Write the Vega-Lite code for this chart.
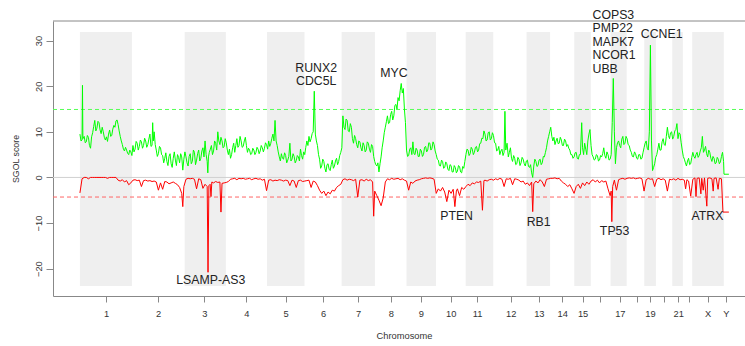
{
"$schema":"https://vega.github.io/schema/vega-lite/v6.json",
"width":692,"height":275,
"autosize":{"type":"none"},
"padding":{"left":53,"top":21,"right":0,"bottom":50},
"background":"white",
"config":{"font":"Liberation Sans","view":{"stroke":null},"axis":{"grid":false}},
"datasets":{
"bands":[{"chr":"1","p":0,"p2":245,"v":-23.8,"v2":31.9},{"chr":"3","p":494,"p2":688,"v":-23.8,"v2":31.9},{"chr":"5","p":882,"p2":1059,"v":-23.8,"v2":31.9},{"chr":"7","p":1234,"p2":1391,"v":-23.8,"v2":31.9},{"chr":"9","p":1540,"p2":1679,"v":-23.8,"v2":31.9},{"chr":"11","p":1819,"p2":1949,"v":-23.8,"v2":31.9},{"chr":"13","p":2106,"p2":2217,"v":-23.8,"v2":31.9},{"chr":"15","p":2331,"p2":2409,"v":-23.8,"v2":31.9},{"chr":"17","p":2502,"p2":2578,"v":-23.8,"v2":31.9},{"chr":"19","p":2661,"p2":2716,"v":-23.8,"v2":31.9},{"chr":"21","p":2793,"p2":2843,"v":-23.8,"v2":31.9},{"chr":"X","p":2887,"p2":3036,"v":-23.8,"v2":31.9}],
"hlines":[{"k":"frame","p":-127,"p2":3136,"v":34.3},{"k":"zero","p":-127,"p2":3136,"v":0},{"k":"gain","p":-127,"p2":3136,"v":14.9},{"k":"loss","p":-127,"p2":3136,"v":-4.3}],
"gain":[{"p":0,"v":9.5},{"p":5,"v":8.0},{"p":10,"v":8.2},{"p":12,"v":20.2},{"p":14,"v":8.5},{"p":20,"v":9.0},{"p":25,"v":7.6},{"p":30,"v":7.8},{"p":35,"v":9.2},{"p":40,"v":8.8},{"p":45,"v":7.0},{"p":50,"v":6.4},{"p":55,"v":8.9},{"p":60,"v":9.8},{"p":65,"v":11.2},{"p":70,"v":12.5},{"p":75,"v":10.2},{"p":80,"v":10.8},{"p":85,"v":12.3},{"p":90,"v":12.0},{"p":95,"v":10.4},{"p":100,"v":9.6},{"p":105,"v":11.0},{"p":110,"v":10.0},{"p":115,"v":8.8},{"p":120,"v":8.2},{"p":125,"v":8.9},{"p":130,"v":7.9},{"p":135,"v":9.5},{"p":140,"v":10.4},{"p":145,"v":9.0},{"p":150,"v":9.2},{"p":155,"v":10.6},{"p":160,"v":11.4},{"p":165,"v":11.0},{"p":170,"v":12.4},{"p":175,"v":12.6},{"p":180,"v":11.6},{"p":185,"v":10.2},{"p":190,"v":9.0},{"p":195,"v":8.0},{"p":200,"v":7.2},{"p":205,"v":6.2},{"p":210,"v":5.8},{"p":215,"v":6.6},{"p":220,"v":6.0},{"p":225,"v":5.3},{"p":230,"v":5.0},{"p":235,"v":6.0},{"p":240,"v":5.6},{"p":245,"v":4.8},
{"p":250,"v":7.0},{"p":255,"v":5.6},{"p":260,"v":6.2},{"p":265,"v":7.9},{"p":270,"v":7.5},{"p":275,"v":6.0},{"p":280,"v":6.8},{"p":285,"v":8.2},{"p":290,"v":7.8},{"p":295,"v":6.4},{"p":300,"v":7.0},{"p":305,"v":8.6},{"p":310,"v":8.0},{"p":315,"v":6.6},{"p":320,"v":7.2},{"p":325,"v":8.4},{"p":330,"v":9.5},{"p":335,"v":6.8},{"p":340,"v":7.0},{"p":343,"v":12.0},{"p":346,"v":8.0},{"p":350,"v":10.0},{"p":355,"v":7.2},{"p":360,"v":6.0},{"p":365,"v":4.6},{"p":370,"v":5.2},{"p":375,"v":6.8},{"p":380,"v":6.5},{"p":385,"v":5.0},{"p":390,"v":4.8},{"p":395,"v":3.2},{"p":400,"v":4.2},{"p":405,"v":5.4},{"p":410,"v":3.5},{"p":415,"v":2.6},{"p":420,"v":4.6},{"p":425,"v":5.2},{"p":430,"v":3.0},{"p":435,"v":2.2},{"p":440,"v":4.2},{"p":445,"v":5.6},{"p":450,"v":3.8},{"p":455,"v":2.6},{"p":460,"v":5.0},{"p":465,"v":4.4},{"p":470,"v":3.2},{"p":475,"v":5.2},{"p":480,"v":4.5},{"p":485,"v":1.6},{"p":490,"v":4.0},{"p":495,"v":5.6},
{"p":500,"v":4.5},{"p":505,"v":3.2},{"p":510,"v":2.5},{"p":515,"v":4.6},{"p":520,"v":5.2},{"p":525,"v":3.0},{"p":530,"v":3.5},{"p":535,"v":6.0},{"p":540,"v":5.5},{"p":545,"v":2.8},{"p":550,"v":3.8},{"p":555,"v":5.2},{"p":560,"v":6.0},{"p":565,"v":3.6},{"p":570,"v":4.2},{"p":575,"v":5.8},{"p":580,"v":6.5},{"p":585,"v":4.5},{"p":590,"v":8.0},{"p":595,"v":5.0},{"p":600,"v":3.5},{"p":603,"v":1.0},{"p":606,"v":4.5},{"p":610,"v":5.5},{"p":615,"v":6.2},{"p":620,"v":7.0},{"p":625,"v":5.0},{"p":630,"v":5.8},{"p":635,"v":8.0},{"p":640,"v":7.5},{"p":645,"v":6.0},{"p":650,"v":10.0},{"p":655,"v":8.0},{"p":660,"v":7.2},{"p":665,"v":8.8},{"p":670,"v":8.0},{"p":675,"v":6.5},{"p":680,"v":6.8},{"p":685,"v":8.5},{"p":690,"v":7.6},{"p":695,"v":6.0},
{"p":700,"v":5.0},{"p":705,"v":6.2},{"p":710,"v":4.2},{"p":715,"v":5.0},{"p":720,"v":6.5},{"p":725,"v":7.5},{"p":730,"v":5.5},{"p":735,"v":7.0},{"p":740,"v":8.5},{"p":745,"v":6.6},{"p":750,"v":7.0},{"p":755,"v":9.0},{"p":760,"v":8.0},{"p":765,"v":6.6},{"p":770,"v":6.8},{"p":775,"v":8.0},{"p":780,"v":8.8},{"p":785,"v":7.0},{"p":790,"v":5.5},{"p":795,"v":6.4},{"p":800,"v":6.0},{"p":805,"v":5.0},{"p":810,"v":5.2},{"p":815,"v":6.4},{"p":820,"v":6.0},{"p":825,"v":5.0},{"p":830,"v":5.5},{"p":835,"v":6.6},{"p":840,"v":6.2},{"p":845,"v":5.2},{"p":850,"v":5.8},{"p":855,"v":7.0},{"p":860,"v":6.5},{"p":865,"v":5.6},{"p":870,"v":6.4},{"p":875,"v":7.6},{"p":880,"v":7.2},{"p":885,"v":6.2},
{"p":890,"v":8.0},{"p":895,"v":6.8},{"p":900,"v":7.5},{"p":905,"v":8.6},{"p":910,"v":9.5},{"p":915,"v":8.0},{"p":920,"v":12.5},{"p":925,"v":8.0},{"p":930,"v":7.0},{"p":935,"v":5.6},{"p":940,"v":4.5},{"p":945,"v":3.6},{"p":950,"v":5.2},{"p":955,"v":4.2},{"p":960,"v":4.0},{"p":965,"v":5.4},{"p":970,"v":4.8},{"p":975,"v":3.2},{"p":980,"v":3.8},{"p":985,"v":4.6},{"p":990,"v":7.5},{"p":995,"v":3.6},{"p":1000,"v":4.0},{"p":1005,"v":5.2},{"p":1010,"v":4.6},{"p":1015,"v":3.2},{"p":1020,"v":3.7},{"p":1025,"v":4.8},{"p":1030,"v":4.5},{"p":1035,"v":3.6},{"p":1040,"v":6.2},{"p":1045,"v":4.8},{"p":1050,"v":4.0},{"p":1055,"v":5.6},{"p":1060,"v":5.0},{"p":1065,"v":6.6},
{"p":1070,"v":8.0},{"p":1075,"v":7.0},{"p":1080,"v":9.0},{"p":1085,"v":7.8},{"p":1090,"v":8.5},{"p":1095,"v":9.6},{"p":1100,"v":10.0},{"p":1105,"v":18.9},{"p":1110,"v":9.5},{"p":1115,"v":8.0},{"p":1120,"v":7.0},{"p":1125,"v":5.0},{"p":1130,"v":4.0},{"p":1135,"v":2.0},{"p":1140,"v":2.5},{"p":1145,"v":4.0},{"p":1150,"v":3.5},{"p":1155,"v":2.0},{"p":1160,"v":1.2},{"p":1165,"v":2.8},{"p":1170,"v":3.0},{"p":1175,"v":1.8},{"p":1180,"v":1.5},{"p":1185,"v":2.8},{"p":1190,"v":3.8},{"p":1195,"v":2.0},{"p":1200,"v":2.5},{"p":1205,"v":3.6},{"p":1210,"v":4.2},{"p":1215,"v":2.8},{"p":1220,"v":3.5},{"p":1225,"v":4.8},{"p":1230,"v":5.5},{"p":1235,"v":6.5},
{"p":1240,"v":13.5},{"p":1245,"v":11.0},{"p":1250,"v":10.5},{"p":1255,"v":12.8},{"p":1260,"v":12.5},{"p":1265,"v":10.2},{"p":1270,"v":10.0},{"p":1275,"v":11.8},{"p":1280,"v":11.0},{"p":1285,"v":8.5},{"p":1290,"v":7.5},{"p":1295,"v":9.2},{"p":1300,"v":8.5},{"p":1305,"v":7.2},{"p":1310,"v":6.5},{"p":1315,"v":8.0},{"p":1320,"v":7.8},{"p":1325,"v":6.5},{"p":1330,"v":5.8},{"p":1335,"v":7.6},{"p":1340,"v":7.0},{"p":1345,"v":5.6},{"p":1350,"v":6.0},{"p":1355,"v":7.8},{"p":1360,"v":7.5},{"p":1365,"v":6.2},{"p":1370,"v":5.5},{"p":1375,"v":7.2},{"p":1380,"v":6.8},{"p":1385,"v":4.6},{"p":1390,"v":3.5},{"p":1395,"v":2.8},
{"p":1400,"v":2.5},{"p":1405,"v":3.2},{"p":1410,"v":1.2},{"p":1415,"v":3.0},{"p":1420,"v":4.5},{"p":1425,"v":6.5},{"p":1430,"v":8.0},{"p":1435,"v":9.8},{"p":1440,"v":11.0},{"p":1445,"v":12.2},{"p":1450,"v":13.5},{"p":1455,"v":11.8},{"p":1460,"v":12.0},{"p":1465,"v":13.8},{"p":1470,"v":14.5},{"p":1475,"v":12.6},{"p":1480,"v":13.5},{"p":1485,"v":15.8},{"p":1490,"v":16.0},{"p":1495,"v":15.0},{"p":1500,"v":17.5},{"p":1505,"v":16.8},{"p":1510,"v":19.0},{"p":1515,"v":20.6},{"p":1520,"v":18.5},{"p":1525,"v":19.5},{"p":1530,"v":15.0},{"p":1535,"v":12.0},
{"p":1540,"v":6.0},{"p":1545,"v":4.6},{"p":1550,"v":4.8},{"p":1555,"v":6.2},{"p":1560,"v":6.5},{"p":1565,"v":5.0},{"p":1570,"v":7.8},{"p":1575,"v":5.2},{"p":1580,"v":5.0},{"p":1585,"v":6.4},{"p":1590,"v":6.0},{"p":1595,"v":4.6},{"p":1600,"v":4.6},{"p":1605,"v":6.2},{"p":1610,"v":5.8},{"p":1615,"v":4.6},{"p":1620,"v":5.0},{"p":1625,"v":6.6},{"p":1630,"v":6.8},{"p":1635,"v":5.6},{"p":1640,"v":6.0},{"p":1645,"v":7.6},{"p":1650,"v":7.5},{"p":1655,"v":6.0},{"p":1660,"v":6.4},{"p":1665,"v":7.8},{"p":1670,"v":7.2},{"p":1675,"v":5.8},{"p":1680,"v":5.0},{"p":1685,"v":4.0},
{"p":1690,"v":3.8},{"p":1695,"v":2.6},{"p":1700,"v":2.5},{"p":1705,"v":3.8},{"p":1710,"v":3.5},{"p":1715,"v":2.0},{"p":1720,"v":2.2},{"p":1725,"v":3.4},{"p":1730,"v":3.0},{"p":1735,"v":1.8},{"p":1740,"v":1.5},{"p":1745,"v":2.8},{"p":1750,"v":2.6},{"p":1755,"v":1.2},{"p":1760,"v":1.2},{"p":1765,"v":2.6},{"p":1770,"v":2.2},{"p":1775,"v":1.0},{"p":1780,"v":1.4},{"p":1785,"v":2.6},{"p":1790,"v":2.4},{"p":1795,"v":1.2},{"p":1800,"v":1.0},{"p":1805,"v":2.4},{"p":1810,"v":2.0},{"p":1815,"v":3.5},
{"p":1820,"v":5.0},{"p":1825,"v":6.2},{"p":1830,"v":6.0},{"p":1835,"v":4.8},{"p":1840,"v":5.2},{"p":1845,"v":6.6},{"p":1850,"v":6.2},{"p":1855,"v":5.0},{"p":1860,"v":5.5},{"p":1865,"v":6.6},{"p":1870,"v":6.8},{"p":1875,"v":5.6},{"p":1880,"v":6.0},{"p":1885,"v":7.4},{"p":1890,"v":7.5},{"p":1895,"v":8.6},{"p":1900,"v":8.5},{"p":1905,"v":10.2},{"p":1910,"v":9.5},{"p":1915,"v":8.0},{"p":1920,"v":8.2},{"p":1925,"v":9.8},{"p":1930,"v":10.0},{"p":1935,"v":8.2},{"p":1940,"v":8.5},{"p":1945,"v":9.8},{"p":1950,"v":9.2},{"p":1955,"v":7.6},
{"p":1960,"v":7.5},{"p":1965,"v":5.8},{"p":1970,"v":6.0},{"p":1975,"v":6.8},{"p":1980,"v":5.0},{"p":1985,"v":5.8},{"p":1990,"v":6.2},{"p":1995,"v":4.8},{"p":2000,"v":5.5},{"p":2004,"v":14.5},{"p":2008,"v":6.0},{"p":2014,"v":7.5},{"p":2020,"v":4.5},{"p":2025,"v":5.5},{"p":2030,"v":6.5},{"p":2035,"v":4.2},{"p":2040,"v":3.5},{"p":2045,"v":4.8},{"p":2050,"v":4.2},{"p":2055,"v":2.8},{"p":2060,"v":3.0},{"p":2065,"v":4.4},{"p":2070,"v":4.0},{"p":2075,"v":2.6},{"p":2080,"v":3.2},{"p":2085,"v":4.4},
{"p":2090,"v":4.0},{"p":2095,"v":3.0},{"p":2100,"v":2.5},{"p":2105,"v":3.6},{"p":2110,"v":3.8},{"p":2115,"v":2.4},{"p":2120,"v":2.2},{"p":2125,"v":2.8},{"p":2130,"v":1.0},{"p":2135,"v":0.0},{"p":2140,"v":2.5},{"p":2145,"v":4.0},{"p":2150,"v":3.5},{"p":2155,"v":2.4},{"p":2160,"v":2.6},{"p":2165,"v":3.8},{"p":2170,"v":4.0},{"p":2175,"v":2.8},{"p":2180,"v":3.2},{"p":2185,"v":4.6},{"p":2190,"v":4.5},{"p":2195,"v":5.5},{"p":2200,"v":6.5},{"p":2205,"v":8.0},{"p":2210,"v":9.0},{"p":2215,"v":10.0},{"p":2220,"v":11.0},{"p":2225,"v":9.0},
{"p":2230,"v":8.0},{"p":2235,"v":8.8},{"p":2240,"v":7.2},{"p":2245,"v":8.0},{"p":2250,"v":8.6},{"p":2255,"v":7.4},{"p":2260,"v":7.5},{"p":2265,"v":8.8},{"p":2270,"v":8.2},{"p":2275,"v":7.0},{"p":2280,"v":7.0},{"p":2285,"v":8.4},{"p":2290,"v":8.0},{"p":2295,"v":6.8},{"p":2300,"v":7.2},{"p":2305,"v":6.4},{"p":2310,"v":6.0},{"p":2315,"v":5.0},{"p":2320,"v":5.0},{"p":2325,"v":4.2},
{"p":2330,"v":4.5},{"p":2335,"v":5.4},{"p":2340,"v":5.5},{"p":2345,"v":4.2},{"p":2350,"v":4.0},{"p":2355,"v":5.0},{"p":2360,"v":5.0},{"p":2366,"v":12.0},{"p":2370,"v":6.5},{"p":2375,"v":5.0},{"p":2380,"v":7.5},{"p":2385,"v":6.2},{"p":2390,"v":5.0},{"p":2395,"v":8.0},{"p":2400,"v":9.5},{"p":2405,"v":10.5},
{"p":2410,"v":7.0},{"p":2415,"v":5.0},{"p":2420,"v":4.5},{"p":2425,"v":3.8},{"p":2430,"v":4.0},{"p":2435,"v":5.0},{"p":2440,"v":4.8},{"p":2445,"v":3.6},{"p":2450,"v":3.8},{"p":2455,"v":4.8},{"p":2460,"v":4.5},{"p":2465,"v":5.2},{"p":2470,"v":6.5},{"p":2475,"v":4.8},{"p":2480,"v":4.2},{"p":2485,"v":5.6},{"p":2490,"v":5.0},{"p":2495,"v":3.8},{"p":2500,"v":4.0},
{"p":2505,"v":5.0},{"p":2510,"v":12.0},{"p":2515,"v":21.7},{"p":2520,"v":10.0},{"p":2525,"v":3.0},{"p":2530,"v":6.5},{"p":2535,"v":7.6},{"p":2540,"v":8.0},{"p":2545,"v":7.0},{"p":2550,"v":6.5},{"p":2555,"v":8.4},{"p":2560,"v":9.0},{"p":2565,"v":7.2},{"p":2570,"v":7.5},{"p":2575,"v":9.0},{"p":2580,"v":8.5},{"p":2585,"v":7.2},
{"p":2590,"v":7.0},{"p":2595,"v":6.0},{"p":2600,"v":5.5},{"p":2605,"v":4.6},{"p":2610,"v":4.5},{"p":2615,"v":5.6},{"p":2620,"v":5.2},{"p":2625,"v":4.2},{"p":2630,"v":4.0},{"p":2635,"v":5.0},{"p":2640,"v":5.0},{"p":2645,"v":4.0},{"p":2650,"v":4.2},{"p":2655,"v":5.4},{"p":2660,"v":6.5},{"p":2665,"v":7.5},
{"p":2670,"v":8.0},{"p":2675,"v":6.4},{"p":2680,"v":6.0},{"p":2685,"v":10.0},{"p":2690,"v":29.0},{"p":2695,"v":8.0},{"p":2700,"v":1.5},{"p":2705,"v":2.2},{"p":2710,"v":3.0},{"p":2715,"v":4.4},
{"p":2720,"v":5.0},{"p":2725,"v":6.2},{"p":2730,"v":7.5},{"p":2735,"v":6.0},{"p":2740,"v":6.0},{"p":2745,"v":7.8},{"p":2750,"v":8.5},{"p":2755,"v":7.2},{"p":2760,"v":7.0},{"p":2765,"v":9.0},{"p":2770,"v":11.0},{"p":2775,"v":9.2},{"p":2780,"v":8.5},{"p":2785,"v":9.8},{"p":2790,"v":10.0},{"p":2795,"v":8.4},
{"p":2800,"v":9.0},{"p":2805,"v":10.2},{"p":2810,"v":10.5},{"p":2815,"v":11.8},{"p":2820,"v":8.5},{"p":2825,"v":9.8},{"p":2830,"v":9.5},{"p":2835,"v":7.6},{"p":2840,"v":6.0},{"p":2845,"v":4.6},
{"p":2850,"v":4.0},{"p":2855,"v":3.2},{"p":2860,"v":2.5},{"p":2865,"v":3.6},{"p":2870,"v":4.2},{"p":2875,"v":2.8},{"p":2880,"v":3.0},{"p":2885,"v":4.4},
{"p":2890,"v":5.5},{"p":2895,"v":4.6},{"p":2900,"v":4.2},{"p":2905,"v":5.0},{"p":2910,"v":5.5},{"p":2915,"v":4.4},{"p":2920,"v":4.8},{"p":2925,"v":5.8},{"p":2930,"v":6.5},{"p":2935,"v":9.0},{"p":2940,"v":5.5},{"p":2945,"v":6.0},{"p":2950,"v":6.8},{"p":2955,"v":5.2},{"p":2960,"v":4.5},{"p":2965,"v":6.0},{"p":2970,"v":5.5},{"p":2975,"v":4.2},{"p":2980,"v":3.5},{"p":2985,"v":4.6},{"p":2990,"v":4.2},{"p":2995,"v":3.0},{"p":3000,"v":3.2},{"p":3005,"v":4.4},{"p":3010,"v":4.0},{"p":3015,"v":3.0},{"p":3020,"v":3.4},{"p":3025,"v":4.6},{"p":3030,"v":5.5},{"p":3035,"v":3.5},{"p":3037,"v":0.7},{"p":3060,"v":0.7}],
"loss":[{"p":0,"v":-3.4},{"p":10,"v":-0.3},{"p":20,"v":0},{"p":30,"v":0},{"p":40,"v":-0.3},{"p":50,"v":0},{"p":60,"v":0},{"p":70,"v":0},{"p":80,"v":0},{"p":90,"v":0},{"p":100,"v":0},{"p":110,"v":0},{"p":120,"v":0},{"p":130,"v":-0.2},{"p":140,"v":0},{"p":150,"v":0},{"p":160,"v":0},{"p":170,"v":0},{"p":180,"v":-0.6},{"p":190,"v":-0.8},{"p":200,"v":-0.5},{"p":210,"v":-1.0},{"p":220,"v":-0.7},{"p":230,"v":-1.6},{"p":240,"v":-1.2},
{"p":250,"v":-0.6},{"p":260,"v":-0.5},{"p":270,"v":-0.7},{"p":280,"v":-0.6},{"p":290,"v":-2.0},{"p":300,"v":-0.7},{"p":310,"v":-0.6},{"p":320,"v":-0.8},{"p":330,"v":-0.7},{"p":340,"v":-0.9},{"p":350,"v":-0.8},{"p":360,"v":-1.0},{"p":370,"v":-2.8},{"p":380,"v":-1.2},{"p":390,"v":-2.6},{"p":400,"v":-0.9},{"p":410,"v":-1.0},{"p":420,"v":-1.4},{"p":430,"v":-1.2},{"p":440,"v":-1.0},{"p":450,"v":-1.3},{"p":460,"v":-1.6},{"p":470,"v":-2.2},{"p":480,"v":-3.5},{"p":485,"v":-6.4},{"p":490,"v":-2.0},
{"p":500,"v":-0.4},{"p":510,"v":-0.2},{"p":520,"v":-0.3},{"p":530,"v":-0.2},{"p":540,"v":-0.4},{"p":550,"v":-2.5},{"p":560,"v":-0.3},{"p":570,"v":-0.5},{"p":580,"v":-2.4},{"p":590,"v":-1.5},{"p":600,"v":-2.0},{"p":604,"v":-20.8},{"p":608,"v":-1.8},{"p":614,"v":-1.5},{"p":618,"v":-4.2},{"p":622,"v":-1.0},{"p":630,"v":-1.2},{"p":640,"v":-0.9},{"p":650,"v":-1.1},{"p":660,"v":-1.0},{"p":665,"v":-7.6},{"p":670,"v":-1.3},{"p":680,"v":-1.2},{"p":690,"v":-1.1},
{"p":700,"v":-0.9},{"p":710,"v":-0.4},{"p":720,"v":-0.3},{"p":730,"v":-0.2},{"p":740,"v":-0.5},{"p":750,"v":-0.2},{"p":760,"v":-0.3},{"p":770,"v":-0.2},{"p":780,"v":-0.4},{"p":790,"v":-0.3},{"p":800,"v":-0.2},{"p":810,"v":-0.5},{"p":820,"v":-0.3},{"p":830,"v":-0.2},{"p":840,"v":-0.4},{"p":850,"v":-0.3},{"p":860,"v":-0.6},{"p":870,"v":-0.4},{"p":880,"v":-2.9},
{"p":890,"v":-0.6},{"p":900,"v":-0.5},{"p":910,"v":-0.8},{"p":920,"v":-0.6},{"p":930,"v":-0.7},{"p":940,"v":-0.5},{"p":950,"v":-0.6},{"p":960,"v":-0.8},{"p":970,"v":-0.6},{"p":980,"v":-0.7},{"p":990,"v":-1.8},{"p":1000,"v":-0.6},{"p":1010,"v":-0.8},{"p":1020,"v":-2.2},{"p":1030,"v":-0.7},{"p":1040,"v":-0.6},{"p":1050,"v":-0.9},{"p":1060,"v":-0.8},
{"p":1070,"v":-0.7},{"p":1080,"v":-0.6},{"p":1090,"v":-2.2},{"p":1100,"v":-0.8},{"p":1110,"v":-1.0},{"p":1120,"v":-1.8},{"p":1130,"v":-2.8},{"p":1140,"v":-3.5},{"p":1150,"v":-3.0},{"p":1160,"v":-4.0},{"p":1170,"v":-3.2},{"p":1180,"v":-3.6},{"p":1190,"v":-2.8},{"p":1200,"v":-3.0},{"p":1210,"v":-2.2},{"p":1220,"v":-1.8},{"p":1230,"v":-1.5},
{"p":1240,"v":-0.5},{"p":1250,"v":-0.3},{"p":1260,"v":-0.6},{"p":1270,"v":-0.4},{"p":1280,"v":-0.5},{"p":1290,"v":-0.7},{"p":1300,"v":-0.4},{"p":1310,"v":-4.3},{"p":1320,"v":-0.6},{"p":1330,"v":-0.5},{"p":1340,"v":-0.8},{"p":1350,"v":-0.4},{"p":1360,"v":-0.7},{"p":1370,"v":-0.5},{"p":1380,"v":-1.0},{"p":1385,"v":-8.5},{"p":1390,"v":-3.0},
{"p":1400,"v":-4.0},{"p":1410,"v":-5.0},{"p":1420,"v":-6.2},{"p":1430,"v":-4.5},{"p":1440,"v":-1.0},{"p":1450,"v":-0.3},{"p":1460,"v":-0.5},{"p":1470,"v":-0.2},{"p":1480,"v":-0.4},{"p":1490,"v":-0.3},{"p":1500,"v":-0.2},{"p":1510,"v":-0.5},{"p":1520,"v":-0.3},{"p":1530,"v":-0.6},
{"p":1540,"v":-0.8},{"p":1550,"v":-2.8},{"p":1560,"v":-1.0},{"p":1570,"v":-1.3},{"p":1580,"v":-0.8},{"p":1590,"v":-0.6},{"p":1600,"v":-0.5},{"p":1610,"v":-0.3},{"p":1620,"v":-0.2},{"p":1630,"v":-0.1},{"p":1640,"v":-0.2},{"p":1650,"v":-0.1},{"p":1660,"v":-0.2},{"p":1670,"v":-0.4},{"p":1680,"v":-3.5},
{"p":1690,"v":-2.5},{"p":1700,"v":-3.0},{"p":1710,"v":-2.2},{"p":1720,"v":-3.2},{"p":1730,"v":-5.3},{"p":1740,"v":-2.8},{"p":1750,"v":-3.5},{"p":1760,"v":-2.6},{"p":1768,"v":-6.4},{"p":1775,"v":-3.0},{"p":1780,"v":-2.5},{"p":1790,"v":-4.0},{"p":1800,"v":-2.2},{"p":1810,"v":-2.6},
{"p":1820,"v":-2.0},{"p":1830,"v":-1.5},{"p":1840,"v":-1.8},{"p":1850,"v":-1.2},{"p":1860,"v":-1.4},{"p":1870,"v":-1.0},{"p":1880,"v":-1.1},{"p":1890,"v":-0.8},{"p":1898,"v":-7.2},{"p":1905,"v":-0.7},{"p":1910,"v":-0.6},{"p":1920,"v":-0.8},{"p":1930,"v":-0.5},{"p":1940,"v":-0.4},{"p":1950,"v":-0.6},
{"p":1960,"v":-0.3},{"p":1970,"v":-0.5},{"p":1980,"v":-0.2},{"p":1990,"v":-0.4},{"p":2000,"v":-2.0},{"p":2010,"v":-0.3},{"p":2020,"v":-0.4},{"p":2030,"v":-0.2},{"p":2040,"v":-1.6},{"p":2050,"v":-0.3},{"p":2060,"v":-0.4},{"p":2070,"v":-0.6},{"p":2080,"v":-1.0},
{"p":2090,"v":-0.8},{"p":2100,"v":-1.5},{"p":2110,"v":-1.2},{"p":2120,"v":-1.8},{"p":2130,"v":-1.0},{"p":2135,"v":-7.5},{"p":2140,"v":-1.4},{"p":2150,"v":-0.8},{"p":2160,"v":-1.2},{"p":2170,"v":-0.5},{"p":2180,"v":-1.0},{"p":2190,"v":-2.0},{"p":2200,"v":-0.4},{"p":2210,"v":-0.3},{"p":2220,"v":-0.2},
{"p":2230,"v":-0.2},{"p":2240,"v":-0.1},{"p":2250,"v":-0.3},{"p":2260,"v":-0.2},{"p":2270,"v":-0.8},{"p":2280,"v":-1.2},{"p":2290,"v":-1.5},{"p":2300,"v":-2.0},{"p":2310,"v":-1.6},{"p":2320,"v":-2.5},
{"p":2330,"v":-3.5},{"p":2340,"v":-2.0},{"p":2350,"v":-1.5},{"p":2360,"v":-2.4},{"p":2370,"v":-1.2},{"p":2380,"v":-1.8},{"p":2390,"v":-1.0},{"p":2400,"v":-1.5},
{"p":2410,"v":-0.8},{"p":2420,"v":-0.5},{"p":2430,"v":-1.0},{"p":2440,"v":-0.6},{"p":2450,"v":-1.2},{"p":2460,"v":-0.7},{"p":2470,"v":-1.0},{"p":2480,"v":-0.8},{"p":2490,"v":-2.5},{"p":2500,"v":-4.0},
{"p":2505,"v":-3.0},{"p":2508,"v":-9.7},{"p":2512,"v":-2.0},{"p":2520,"v":-0.6},{"p":2530,"v":-2.8},{"p":2540,"v":-0.5},{"p":2550,"v":-0.3},{"p":2560,"v":-0.2},{"p":2570,"v":-0.4},{"p":2580,"v":-0.2},
{"p":2590,"v":-0.1},{"p":2600,"v":-0.2},{"p":2610,"v":-0.1},{"p":2620,"v":-0.3},{"p":2630,"v":-0.2},{"p":2640,"v":-0.1},{"p":2650,"v":-0.3},{"p":2660,"v":-3.0},
{"p":2670,"v":-0.5},{"p":2680,"v":-0.2},{"p":2690,"v":-0.4},{"p":2700,"v":-0.3},{"p":2710,"v":-2.0},
{"p":2720,"v":-0.4},{"p":2730,"v":-0.2},{"p":2740,"v":-0.5},{"p":2750,"v":-0.3},{"p":2760,"v":-0.6},{"p":2770,"v":-3.0},{"p":2780,"v":-0.4},{"p":2790,"v":-0.5},
{"p":2800,"v":-0.3},{"p":2810,"v":-0.6},{"p":2820,"v":-0.2},{"p":2830,"v":-0.5},{"p":2840,"v":-0.4},
{"p":2850,"v":-0.6},{"p":2856,"v":-2.5},{"p":2862,"v":-0.5},{"p":2870,"v":-0.8},{"p":2880,"v":-4.1},
{"p":2890,"v":-0.4},{"p":2900,"v":-0.1},{"p":2905,"v":-4.2},{"p":2910,"v":-0.2},{"p":2920,"v":-0.1},{"p":2928,"v":-3.6},{"p":2932,"v":-0.2},{"p":2939,"v":-2.8},{"p":2945,"v":-0.1},{"p":2956,"v":-6.3},{"p":2960,"v":-0.2},{"p":2970,"v":-0.1},{"p":2980,"v":-0.3},{"p":2986,"v":-3.0},{"p":2990,"v":-0.2},{"p":3000,"v":-0.1},{"p":3009,"v":-2.6},{"p":3015,"v":-0.2},{"p":3025,"v":-0.3},{"p":3032,"v":-7.6},{"p":3060,"v":-7.6}],
"genes":[{"p":617,"v":-22.5,"t":"LSAMP-AS3"},{"p":1114,"v":24.1,"t":"RUNX2"},{"p":1114,"v":21.2,"t":"CDC5L"},{"p":1481,"v":22.9,"t":"MYC"},{"p":2743,"v":31.4,"t":"CCNE1"},{"p":1776,"v":-8.45,"t":"PTEN"},{"p":2163,"v":-9.8,"t":"RB1"},{"p":2521,"v":-11.8,"t":"TP53"},{"p":2959,"v":-8.55,"t":"ATRX"}],
"genes17":[{"p":2417,"v":35.7,"t":"COPS3"},{"p":2417,"v":32.8,"t":"PMP22"},{"p":2417,"v":29.7,"t":"MAPK7"},{"p":2417,"v":26.9,"t":"NCOR1"},{"p":2417,"v":23.8,"t":"UBB"}]
},
"encoding":{
 "x":{"field":"p","type":"quantitative","scale":{"domain":[-127,3136],"nice":false,"zero":false},
   "axis":{"title":"Chromosome","titleFontSize":9.3,"titleFontWeight":"normal","titleColor":"#333","titleX":351,"titleY":39,"titleBaseline":"middle","titleAlign":"center",
    "values":[123,369,586,785,970,1147,1312,1466,1608,1748,1873,2031,2164,2274,2370,2452,2546,2625,2688,2755,2821,2873,2960,3046],
    "labelExpr":"datum.value==123?'1':datum.value==369?'2':datum.value==586?'3':datum.value==785?'4':datum.value==970?'5':datum.value==1147?'6':datum.value==1312?'7':datum.value==1466?'8':datum.value==1608?'9':datum.value==1748?'10':datum.value==1873?'11':datum.value==2031?'12':datum.value==2164?'13':datum.value==2274?'14':datum.value==2370?'15':datum.value==2546?'17':datum.value==2688?'19':datum.value==2821?'21':datum.value==2960?'X':datum.value==3046?'Y':''",
    "labelOverlap":false,"labelFlush":false,"labelBound":false,"labelFontSize":9.3,"labelColor":"#333","labelBaseline":"middle","labelPadding":11,
    "tickSize":6,"tickColor":"#888","domainColor":"#888","grid":false}},
 "y":{"field":"v","type":"quantitative","scale":{"domain":[-26,34.3],"nice":false,"zero":false},
   "axis":{"title":"SGOL score","titleFontSize":8.8,"titleFontWeight":"normal","titleColor":"#333","titleAngle":270,"titleX":-37.3,"titleY":137.5,"titleAlign":"center","titleBaseline":"middle",
    "values":[-20,-10,0,10,20,30],"labelAngle":270,"labelAlign":"center","labelBaseline":"middle","labelPadding":8,"labelFontSize":9.3,"labelColor":"#333",
    "tickSize":7,"tickColor":"#888","domainColor":"#888","grid":false}}
},
"layer":[
{"data":{"name":"bands"},"mark":{"type":"rect","color":"#efefef"},"encoding":{"x2":{"field":"p2"},"y2":{"field":"v2"}}},
{"data":{"name":"hlines"},"transform":[{"filter":"datum.k=='frame'"}],"mark":{"type":"rule","color":"#888","strokeWidth":1},"encoding":{"x2":{"field":"p2"}}},
{"data":{"name":"hlines"},"transform":[{"filter":"datum.k=='zero'"}],"mark":{"type":"rule","color":"#d0d0d0","strokeWidth":1},"encoding":{"x2":{"field":"p2"}}},
{"data":{"name":"hlines"},"transform":[{"filter":"datum.k=='gain'"}],"mark":{"type":"rule","color":"#55ff55","strokeWidth":1,"strokeDash":[4,3]},"encoding":{"x2":{"field":"p2"}}},
{"data":{"name":"hlines"},"transform":[{"filter":"datum.k=='loss'"}],"mark":{"type":"rule","color":"#ff6666","strokeWidth":1,"strokeDash":[4,3]},"encoding":{"x2":{"field":"p2"}}},
{"data":{"name":"gain"},"mark":{"type":"line","color":"#00ff00","strokeWidth":1}},
{"data":{"name":"loss"},"mark":{"type":"line","color":"#ff0000","strokeWidth":1}},
{"data":{"name":"genes"},"mark":{"type":"text","fontSize":12.3,"color":"#222","align":"center","baseline":"middle"},"encoding":{"text":{"field":"t"}}},
{"data":{"name":"genes17"},"mark":{"type":"text","fontSize":12.3,"color":"#222","align":"left","baseline":"middle"},"encoding":{"text":{"field":"t"}}}
]
}
